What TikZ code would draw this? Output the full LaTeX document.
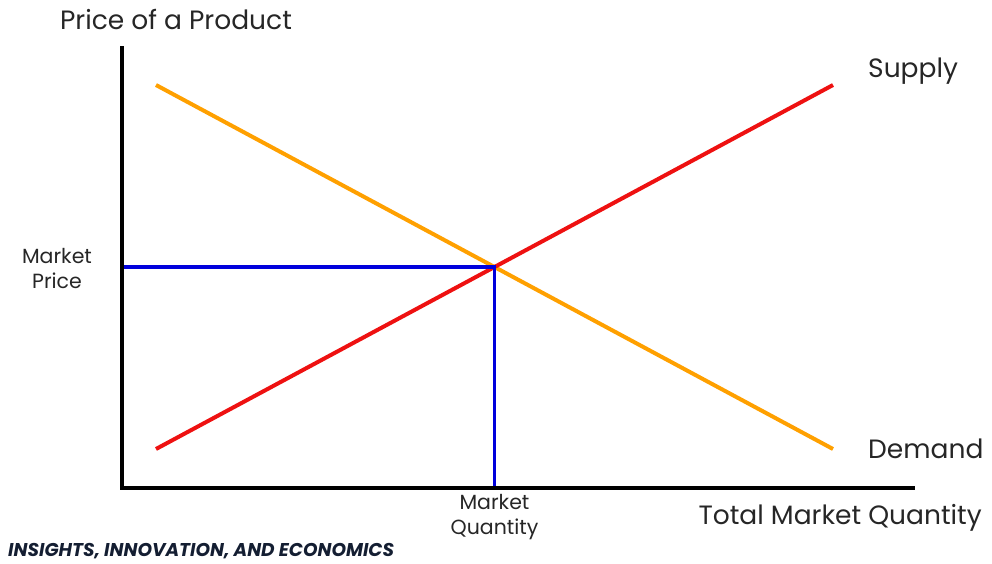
\documentclass[tikz,border=0pt]{standalone}
\usepackage{fontspec}
\setmainfont{Poppins}
\usepackage{xcolor}
\usetikzlibrary{positioning,calc}
\definecolor{demandorange}{RGB}{255,160,0}
\definecolor{supplyred}{RGB}{238,17,17}
\definecolor{marketblue}{RGB}{0,0,220}
\definecolor{brandnavy}{RGB}{20,30,50}

\begin{document}
\begin{tikzpicture}[x=1pt, y=-1pt,
				axis/.style={line width=4pt, black},
				curve/.style={line width=4pt},
				guide/.style={line width=3.5pt, marketblue},
				biglabel/.style={font=\fontsize{26.5}{30}\selectfont, text=black!85, inner sep=0pt},
				smalllabel/.style={font=\fontsize{20.5}{25}\selectfont, text=black!85, align=center, inner sep=0pt}]
				\useasboundingbox (0,0) rectangle (992,563);
				% axes
				\coordinate (top) at (122,46);
				\coordinate (origin) at (122,488);
				\coordinate (right) at (915,488);
				\draw[axis] (top) -- (origin) -- (right);
				
				% supply and demand
				\coordinate (d1) at (156,85);
				\coordinate (d2) at (833,449);
				\coordinate (s1) at (156,449);
				\coordinate (s2) at (833,85);
				\draw[curve, demandorange] (d1) -- (d2);
				\draw[curve, supplyred] (s1) -- (s2);
				
				% equilibrium
				\coordinate (eq) at (494.5,267);
				\coordinate (py) at (124,267);
				\coordinate (qx) at (494.5,486);
				\draw[guide] (py) -- (eq) -- (qx);
				
				\node[biglabel] (ylab) at (176,19) {Price of a Product};
				\node[biglabel, anchor=west] (slab) at (868,71) {Supply};
				\node[biglabel, anchor=west] (dlab) at (868,449) {Demand};
				\node[biglabel, anchor=east] (xlab) at (982,518) {Total Market Quantity};
				\node[smalllabel] (plab) at (57,268) {Market\\Price};
				\node[smalllabel] (qlab) at (494.5,517) {Market\\Quantity};
				\node[font=\fontsize{18.5}{20}\selectfont\bfseries\itshape, text=brandnavy, anchor=west, inner sep=0pt] (brand) at (8,551) {INSIGHTS, INNOVATION, AND ECONOMICS};
			\end{tikzpicture}
\end{document}
